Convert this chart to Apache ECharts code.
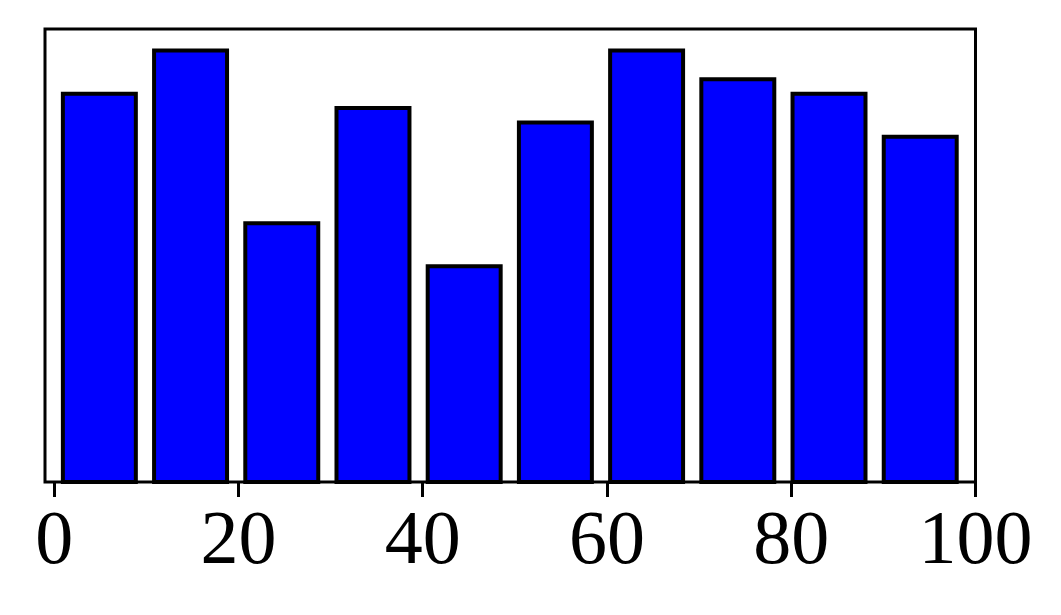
<!DOCTYPE html>
<html>
<head>
<meta charset="utf-8">
<script src="https://cdn.jsdelivr.net/npm/echarts@6/dist/echarts.min.js"></script>
<style>
  html, body { margin: 0; padding: 0; background: #fff; }
  #chart { width: 1061px; height: 615px; }
</style>
</head>
<body>
<div id="chart"></div>
<script>
// bar centres on the x axis and their heights
var positions = [4.9, 14.8, 24.7, 34.6, 44.5, 54.4, 64.3, 74.2, 84.1, 94.0];
var heights = [27, 30, 18, 26, 15, 25, 30, 28, 27, 24];
var barSpan = 7.92;                    // bar width in data units
var xTicks = [0, 20, 40, 60, 80, 100];

var chart = echarts.init(document.getElementById('chart'));

var data = positions.map(function (p, i) { return [p, heights[i]]; });

chart.setOption({
  animation: false,
  backgroundColor: '#fff',
  grid: {
    left: 45, right: 85.5, top: 29, bottom: 133,
    show: true, borderColor: '#000', borderWidth: 3, backgroundColor: 'transparent'
  },
  xAxis: {
    type: 'value',
    min: -1,
    max: 100,
    axisLine: { show: false },
    splitLine: { show: false },
    axisTick: {
      show: true, length: 15, inside: false,
      customValues: xTicks,
      lineStyle: { color: '#000', width: 3 }
    },
    axisLabel: {
      customValues: xTicks,
      margin: 23,
      color: '#000',
      fontFamily: 'Liberation Serif',
      fontSize: 76
    }
  },
  yAxis: {
    type: 'value',
    min: 0,
    max: 31.5,
    axisLine: { show: false },
    axisTick: { show: false },
    axisLabel: { show: false },
    splitLine: { show: false }
  },
  series: [{
    type: 'custom',
    data: data,
    renderItem: function (params, api) {
      var x = api.value(0), y = api.value(1);
      var tl = api.coord([x - barSpan / 2, y]);
      var br = api.coord([x + barSpan / 2, 0]);
      return {
        type: 'rect',
        shape: { x: tl[0], y: tl[1], width: br[0] - tl[0], height: br[1] - tl[1] },
        style: { fill: '#0000ff', stroke: '#000', lineWidth: 4 }
      };
    }
  }]
});
</script>
</body>
</html>
